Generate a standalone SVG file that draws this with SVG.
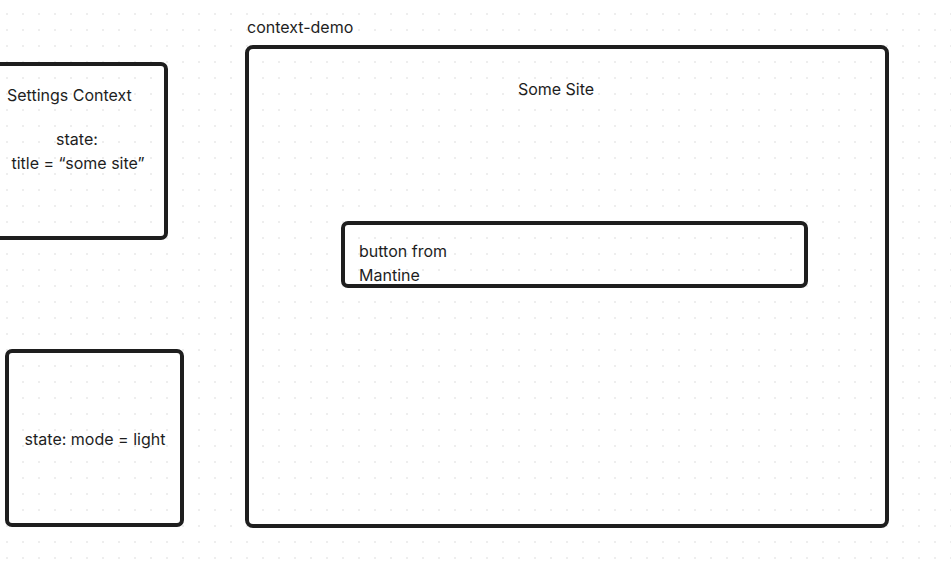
<svg xmlns="http://www.w3.org/2000/svg" width="951" height="568" viewBox="0 0 951 568">
<defs>
<pattern id="dots" x="0" y="0" width="16" height="16" patternUnits="userSpaceOnUse">
<rect x="6.3" y="13.3" width="1.4" height="1.4" fill="#dcdcdc"/>
</pattern>
</defs>
<style>
.box{fill:none;stroke:#1e1e1e;stroke-width:4}
.t{font-family:Inter,"Liberation Sans",sans-serif;font-size:16px;fill:#1e1e1e}
.m{text-anchor:middle}
</style>
<rect width="951" height="568" fill="#ffffff"/>
<rect width="951" height="568" fill="url(#dots)"/>
<g id="settings-context">
<rect class="box" x="-10" y="64" width="176" height="174" rx="5"/>
<text class="t" x="7" y="101">Settings Context</text>
<text class="t m" x="77" y="145">state:</text>
<text class="t m" x="78" y="169">title = “some site”</text>
</g>
<g id="mode-state">
<rect class="box" x="7" y="351" width="175" height="174" rx="5"/>
<text class="t m" x="95" y="445">state: mode = light</text>
</g>
<g id="context-demo">
<text class="t" x="247" y="33">context-demo</text>
<rect class="box" x="247" y="47" width="640" height="479" rx="6"/>
<text class="t m" x="556" y="95">Some Site</text>
</g>
<g id="button">
<rect class="box" x="343" y="223" width="463" height="63" rx="5"/>
<text class="t" x="359" y="257">button from</text>
<text class="t" x="359" y="281">Mantine</text>
</g>
<g id="connectors"></g>
</svg>
